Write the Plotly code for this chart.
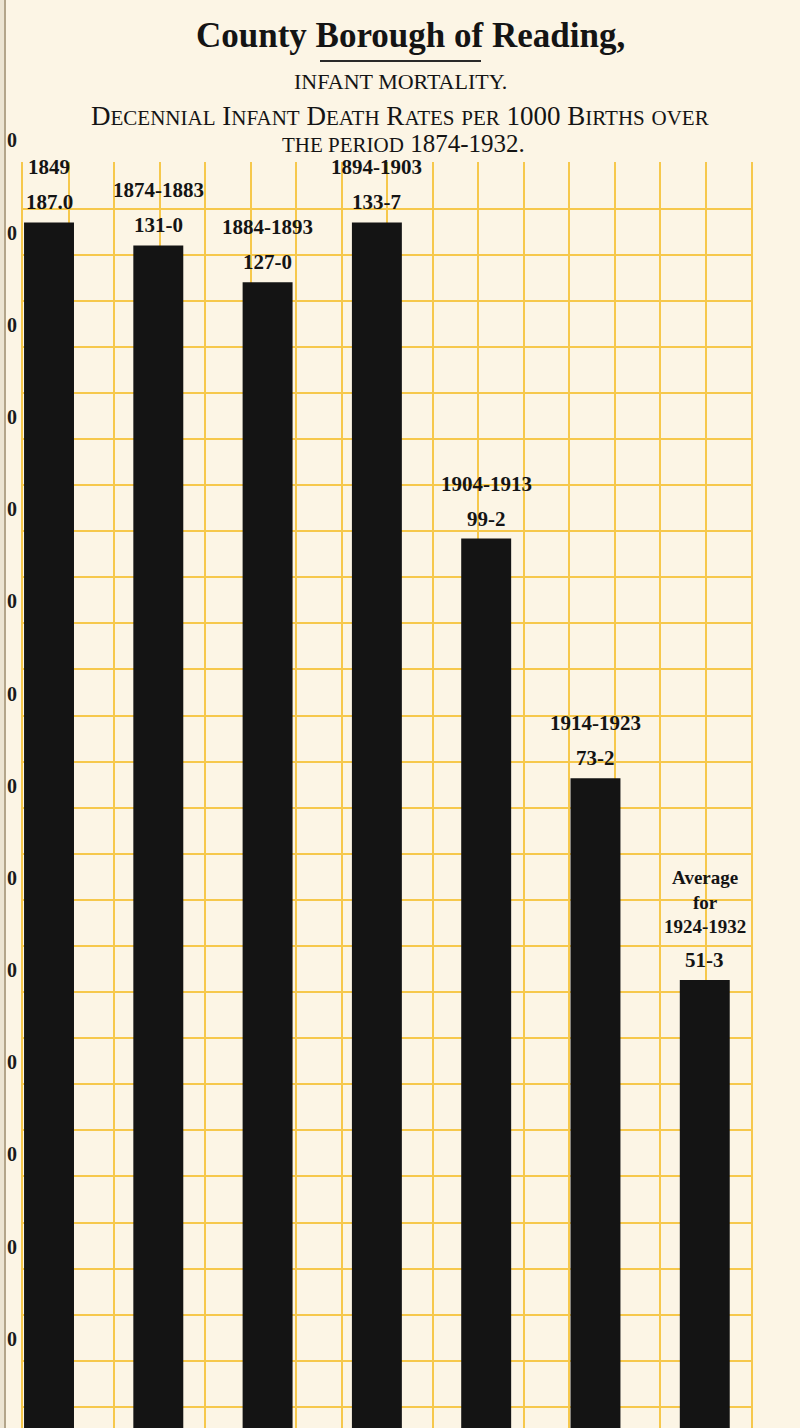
import plotly.graph_objects as go

# ---------------- data ----------------
periods = ["1849", "1874-1883", "1884-1893", "1894-1903",
           "1904-1913", "1914-1923", "Average for 1924-1932"]
period_labels = ["1849", "1874-1883", "1884-1893", "1894-1903",
                 "1904-1913", "1914-1923", "Average<br>for<br>1924-1932"]
rates = [187.0, 131.0, 127.0, 133.7, 99.2, 73.2, 51.3]
rate_labels = ["187.0", "131-0", "127-0", "133-7", "99-2", "73-2", "51-3"]
# scale marks at the (trimmed) left edge of the sheet: only the final "0" survives
y_tick_values = [10, 20, 30, 40, 50, 60, 70, 80, 90, 100, 110, 120, 130, 140]
y_tick_text = ["0"] * len(y_tick_values)

# the 1849 bar is broken off in the original (it runs off the sheet)
BREAK_AT = 133.5
drawn = [min(v, BREAK_AT) for v in rates]

# ---------------- style / geometry ----------------
W, H = 800, 1428
L, R, T, B = 23, 49, 162, 0
PW, PH = W - L - R, H - T - B
CREAM = "#fcf5e5"
GRID = "#f6c84c"
INK = "#141414"
SERIF = "Liberation Serif"


def px_x(px):
    return (px - L) / PW


def px_y(py):
    return (H - B - py) / PH


fig = go.Figure()
fig.add_trace(go.Bar(
    x=periods, y=drawn, marker=dict(color=INK, line=dict(width=0)),
    hoverinfo="skip", showlegend=False,
))
# empty trace that makes the square-ruled grid axis render
fig.add_trace(go.Scatter(x=[], y=[], xaxis="x2", yaxis="y", showlegend=False,
                         hoverinfo="skip"))

annotations = []
for i, (v, lab, plab) in enumerate(zip(drawn, rate_labels, period_labels)):
    annotations.append(dict(
        x=i, y=v, xref="x", yref="y", text=lab, showarrow=False,
        yanchor="middle", yshift=20,
        font=dict(family=SERIF, size=21, color=INK, weight="bold"),
    ))
    annotations.append(dict(
        x=i, y=v, xref="x", yref="y", text=plab, showarrow=False,
        yanchor="bottom", yshift=41,
        font=dict(family=SERIF, size=21 if "<br>" not in plab else 19,
                  color=INK, weight="bold"),
    ))


def small(s, size=21):
    return f'<span style="font-size:{size}px">{s}</span>'


titles = [
    dict(text="<b>County Borough of Reading,</b>", x=410, y=36, size=35),
    dict(text="INFANT MORTALITY.", x=400, y=81, size=22),
    dict(text=("D" + small("ECENNIAL") + " I" + small("NFANT") + " D" + small("EATH")
               + " R" + small("ATES") + " " + small("PER") + " 1000 B" + small("IRTHS")
               + " " + small("OVER")),
         x=400, y=116, size=27),
    dict(text=small("THE PERIOD") + " 1874-1932.", x=403, y=144, size=25),
]
for t in titles:
    annotations.append(dict(
        x=px_x(t["x"]), y=px_y(t["y"]), xref="paper", yref="paper", text=t["text"],
        showarrow=False, xanchor="center", yanchor="middle",
        font=dict(family=SERIF, size=t["size"], color=INK),
    ))

shapes = [
    # rule under the heading
    dict(type="line", xref="paper", yref="paper", x0=px_x(320), x1=px_x(481),
         y0=px_y(61), y1=px_y(61), line=dict(color="#2a2a2a", width=2)),
    # page edge of the scanned sheet
    dict(type="rect", xref="paper", yref="paper", x0=px_x(0), x1=px_x(4),
         y0=px_y(H), y1=px_y(0), fillcolor="#ece4d2", line=dict(width=0), layer="above"),
    dict(type="rect", xref="paper", yref="paper", x0=px_x(4), x1=px_x(6),
         y0=px_y(H), y1=px_y(0), fillcolor="#b3a58a", line=dict(width=0), layer="above"),
]

fig.update_layout(
    width=W, height=H,
    margin=dict(l=L, r=R, t=T, b=B, pad=0, autoexpand=False),
    paper_bgcolor=CREAM, plot_bgcolor=CREAM,
    bargap=0.543,
    showlegend=False,
    font=dict(family=SERIF, color=INK),
    xaxis=dict(type="category", range=[-0.238, 6.423], showgrid=False,
               showticklabels=False, ticks="", zeroline=False, showline=False,
               automargin=False),
    xaxis2=dict(overlaying="x", anchor="y", range=[0, 16], dtick=1, tick0=0,
                showgrid=True, gridcolor=GRID, gridwidth=2,
                showticklabels=False, ticks="", zeroline=False, showline=False,
                automargin=False),
    yaxis=dict(range=[2.71, 140.05], tickvals=y_tick_values, ticktext=y_tick_text,
               showgrid=True, gridcolor=GRID, gridwidth=2,
               minor=dict(dtick=5, tick0=0, showgrid=True, gridcolor=GRID, gridwidth=2),
               ticks="", zeroline=False,
               showline=True, mirror=True, linecolor=GRID, linewidth=2,
               tickfont=dict(family=SERIF, size=20, color="#1a1a1a", weight="bold"),
               ticklabelshift=-22, ticklabelstandoff=0, automargin=False),
    annotations=annotations,
    shapes=shapes,
)

fig.write_html("out.html", config={"displayModeBar": False},
               post_script="document.body.style.margin='0';")
